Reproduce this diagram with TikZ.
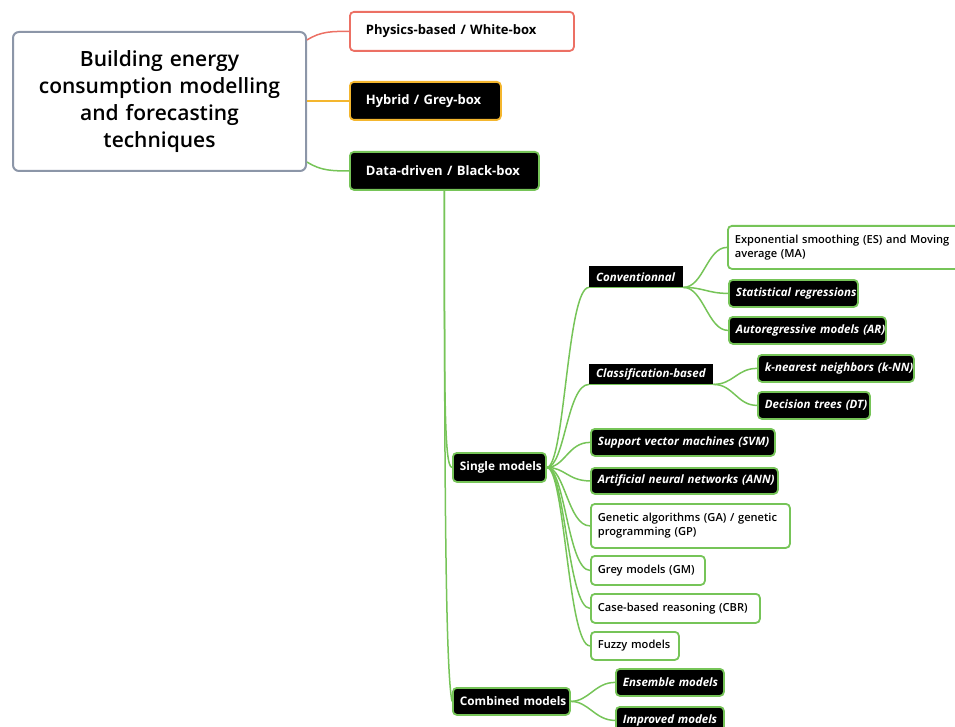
\documentclass[tikz,border=0pt]{standalone}
\usepackage{fontspec}
\setmainfont{Open Sans}
\IfFontExistsTF{Open Sans Semibold}{\newfontfamily\semi{Open Sans Semibold}}{%
 \IfFontExistsTF{Open Sans SemiBold}{\newfontfamily\semi{Open Sans SemiBold}}{\newcommand\semi{\fontspec{Open Sans}[FakeBold=0.6]}}}
\usetikzlibrary{calc}
\definecolor{gr}{RGB}{118,196,88}
\definecolor{rd}{RGB}{236,112,100}
\definecolor{og}{RGB}{244,182,46}
\definecolor{bl}{RGB}{140,150,168}
\newcommand{\nb}[1]{\mbox{#1}}
\tikzset{
 base/.style={anchor=north west, rounded corners=4pt, line width=1.8pt, inner xsep=7pt, inner ysep=0pt, align=left, font=\fontsize{11.1}{14}\selectfont\semi},
 topbox/.style={base, inner xsep=16pt, font=\fontsize{13}{15}\selectfont\bfseries},
 dark/.style={base, fill=black, draw=gr, text=white, font=\fontsize{11.5}{14}\selectfont\bfseries\itshape},
 darkup/.style={dark, font=\fontsize{11.8}{14}\selectfont\bfseries},
 light/.style={base, fill=white, draw=gr, text=black},
 under/.style={anchor=north west, fill=black, text=white, inner xsep=7pt, inner ysep=0pt, align=left, font=\fontsize{11.5}{14}\selectfont\bfseries\itshape},
 conn/.style={draw=gr, line width=1.5pt},
}
\begin{document}
\begin{tikzpicture}[x=1pt,y=-1pt]
\useasboundingbox (0,0) rectangle (955,727);
% root
\node[base, draw=bl, line width=2pt, rounded corners=6pt, fill=white, align=center, text width=279pt, minimum height=139pt, font=\fontsize{21}{27}\selectfont\semi] (root) at (12,31) {Building energy\\consumption modelling\\and forecasting\\techniques};
% level 1
\node[topbox, draw=rd, fill=white, text width=192pt, minimum height=39pt] (phys) at (349,11) {\nb{Physics-based / White-box}};
\node[topbox, draw=og, fill=black, text=white, text width=119pt, minimum height=38pt] (hyb) at (349,81) {\nb{Hybrid / Grey-box}};
\node[topbox, draw=gr, fill=black, text=white, text width=157pt, minimum height=38pt] (dd) at (349,151) {\nb{Data-driven / Black-box}};
% level 2
\node[darkup, text width=79pt, minimum height=29pt] (sm) at (452,452) {\nb{Single models}};
\node[darkup, text width=103pt, minimum height=27pt] (cm) at (452,687) {\nb{Combined models}};
% level 3 under single
\node[under, text width=80pt, minimum height=21pt] (conv) at (589,266) {\nb{Conventionnal}};
\node[under, text width=110pt, minimum height=20pt] (cls) at (589,364) {\nb{Classification-based}};
\node[dark, text width=170pt, minimum height=27pt] (svm) at (590,428) {\nb{Support vector machines (SVM)}};
\node[dark, text width=173pt, minimum height=26pt] (ann) at (590,467) {\nb{Artificial neural networks (ANN)}};
\node[light, text width=185pt, minimum height=44pt] (ga) at (590,503) {\nb{Genetic algorithms (GA) / genetic}\\\nb{programming (GP)}};
\node[light, text width=100pt, minimum height=29pt] (gm) at (590,555) {\nb{Grey models (GM)}};
\node[light, text width=155pt, minimum height=29pt] (cbr) at (590,593) {\nb{Case-based reasoning (CBR)}};
\node[light, text width=74pt, minimum height=28pt] (fz) at (590,631) {\nb{Fuzzy models}};
% level 4
\node[light, text width=230pt, minimum height=43pt] (es) at (727,225) {\nb{Exponential smoothing (ES) and Moving}\\\nb{average (MA)}};
\node[dark, text width=115pt, minimum height=27pt] (sr) at (728,279) {\nb{Statistical regressions}};
\node[dark, text width=143pt, minimum height=27pt] (ar) at (728,316) {\nb{Autoregressive models (AR)}};
\node[dark, text width=142pt, minimum height=27pt] (knn) at (757,354) {\nb{k-nearest neighbors (k-NN)}};
\node[dark, text width=98pt, minimum height=27pt] (dt) at (757,391) {\nb{Decision trees (DT)}};
% combined children
\node[dark, text width=94pt, minimum height=27pt] (ens) at (615,668) {\nb{Ensemble models}};
\node[dark, text width=94pt, minimum height=27pt] (imp) at (615,706) {\nb{Improved models}};
% connectors from root
\draw[draw=rd, line width=1.5pt] ($(root.north east)+(0,9)$) .. controls +(14,-9) and +(-16,0) .. (phys.west);
\draw[draw=og, line width=1.5pt] (root.east |- hyb.west) -- (hyb.west);
\draw[conn] ($(root.south east)+(0,-10)$) .. controls +(14,9) and +(-16,0) .. (dd.west);
% trunk
\draw[conn] (dd.south) .. controls +(0,200) and +(-8,0) .. (sm.west);
\draw[conn] (dd.south) .. controls +(0,320) and +(-6,-30) .. (cm.west);
% single models children
\draw[conn] (conv.south west) -- (conv.south east);
\draw[conn] (cls.south west) -- (cls.south east);
\foreach \c in {conv.south west, cls.south west, svm.west, ann.west, ga.west, gm.west, cbr.west, fz.west}
  \draw[conn] (sm.east) .. controls +(18,0) and +(-22,0) .. (\c);
\foreach \c in {es, sr, ar}
  \draw[conn] (conv.south east) .. controls +(20,0) and +(-20,0) .. (\c.west);
\foreach \c in {knn, dt}
  \draw[conn] (cls.south east) .. controls +(20,0) and +(-20,0) .. (\c.west);
\foreach \c in {ens, imp}
  \draw[conn] (cm.east) .. controls +(18,0) and +(-20,0) .. (\c.west);
\end{tikzpicture}
\end{document}
